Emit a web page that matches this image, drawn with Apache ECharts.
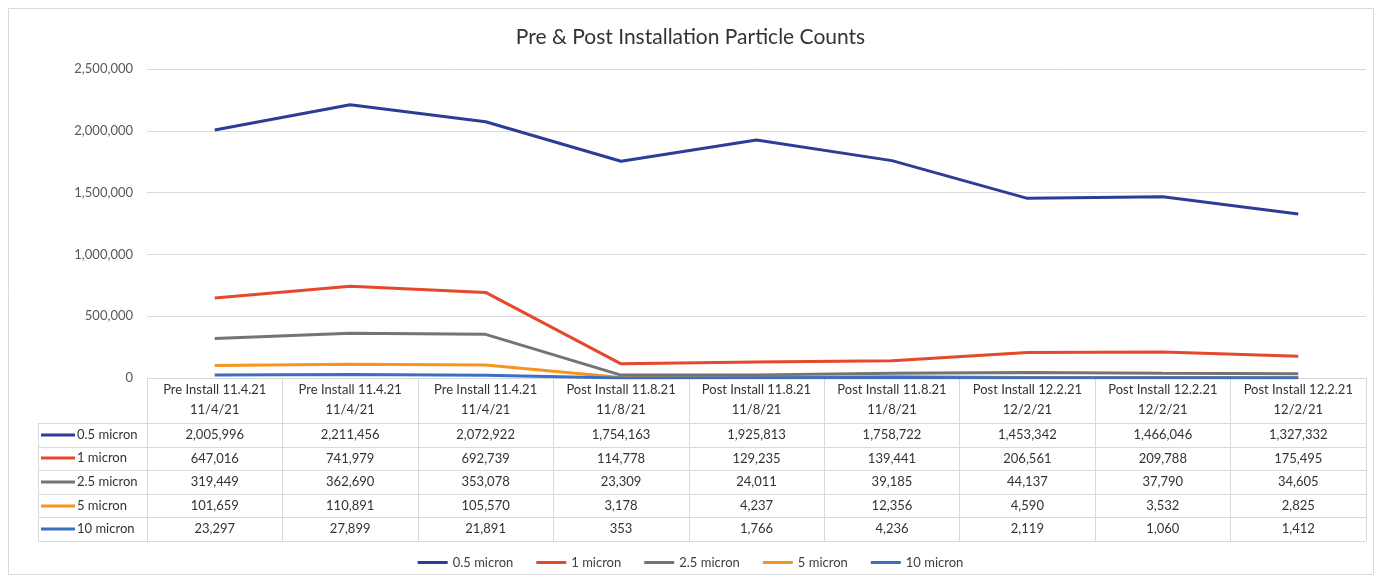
<!DOCTYPE html>
<html>
<head>
<meta charset="utf-8">
<title>Pre & Post Installation Particle Counts</title>
<script src="https://cdn.jsdelivr.net/npm/echarts@6/dist/echarts.min.js"></script>
<style>
  html, body { margin: 0; padding: 0; background: #fff; }
  #main { width: 1381px; height: 582px; }
</style>
</head>
<body>
<div id="main"></div>
<script>
// data
var stages = ['Pre Install 11.4.21', 'Pre Install 11.4.21', 'Pre Install 11.4.21',
  'Post Install 11.8.21', 'Post Install 11.8.21', 'Post Install 11.8.21',
  'Post Install 12.2.21', 'Post Install 12.2.21', 'Post Install 12.2.21'];
var dates = ['11/4/21', '11/4/21', '11/4/21', '11/8/21', '11/8/21', '11/8/21', '12/2/21', '12/2/21', '12/2/21'];

var micron05 = [2005996, 2211456, 2072922, 1754163, 1925813, 1758722, 1453342, 1466046, 1327332];
var micron1 = [647016, 741979, 692739, 114778, 129235, 139441, 206561, 209788, 175495];
var micron25 = [319449, 362690, 353078, 23309, 24011, 39185, 44137, 37790, 34605];
var micron5 = [101659, 110891, 105570, 3178, 4237, 12356, 4590, 3532, 2825];
var micron10 = [23297, 27899, 21891, 353, 1766, 4236, 2119, 1060, 1412];

var seriesNames = ['0.5 micron', '1 micron', '2.5 micron', '5 micron', '10 micron'];
var seriesData = [micron05, micron1, micron25, micron5, micron10];
var colors = ['#2b3d97', '#e5482a', '#747474', '#f7941d', '#3b6fc3'];

var FONT = 'Lato';
var gridLeft = 147, gridRight = 15, gridTop = 69, gridBottom = 204;
var axisY = 582 - gridBottom;          // 378
var headerH = 45, rowH = 23.6;
var tableLeft = 38;

var fmt = function (v) { return v.toLocaleString('en-US'); };

var headers = stages.map(function (s, i) { return s + '\n' + dates[i]; });

var xAxes = [{
  type: 'category',
  data: headers,
  boundaryGap: true,
  gridIndex: 0,
  axisLine: { lineStyle: { color: '#d9d9d9', width: 1 } },
  axisTick: { show: true, interval: 0, length: headerH + rowH * 5, lineStyle: { color: '#d9d9d9' } },
  axisLabel: {
    interval: 0, margin: 2, color: '#333', fontFamily: FONT, fontSize: 13, lineHeight: 20
  }
}];
seriesData.forEach(function (arr, k) {
  xAxes.push({
    type: 'category',
    data: arr.map(fmt),
    gridIndex: 0,
    position: 'bottom',
    offset: headerH + rowH * k + rowH / 2,
    axisLine: { show: false },
    axisTick: { show: false },
    axisLabel: {
      interval: 0, margin: 0, verticalAlign: 'middle',
      color: '#333', fontFamily: FONT, fontSize: 13
    }
  });
});

// table frame (decoration only)
var graphics = [{
  type: 'rect', shape: { x: 8.5, y: 8.5, width: 1365, height: 566 },
  style: { fill: 'none', stroke: '#d9d9d9', lineWidth: 1 }, silent: true
}];
var tableRight = 1381 - gridRight;
for (var r = 0; r <= 5; r++) {
  var y = Math.round(axisY + headerH + rowH * r) + 0.5;
  graphics.push({
    type: 'line', shape: { x1: tableLeft, y1: y, x2: tableRight, y2: y },
    style: { stroke: '#d9d9d9', lineWidth: 1 }, silent: true
  });
}
graphics.push({
  type: 'line',
  shape: { x1: tableLeft + 0.5, y1: axisY + headerH, x2: tableLeft + 0.5, y2: Math.round(axisY + headerH + rowH * 5) + 0.5 },
  style: { stroke: '#d9d9d9', lineWidth: 1 }, silent: true
});
seriesNames.forEach(function (name, k) {
  var cy = Math.round(axisY + headerH + rowH * k + rowH / 2);
  graphics.push({
    type: 'line', shape: { x1: 41, y1: cy, x2: 75, y2: cy },
    style: { stroke: colors[k], lineWidth: 3 }, silent: true
  });
  graphics.push({
    type: 'text', x: 77, y: cy,
    style: { text: name, fill: '#333', font: '13px ' + FONT, textVerticalAlign: 'middle' }, silent: true
  });
});

var chart = echarts.init(document.getElementById('main'));
chart.setOption({
  animation: false,
  color: colors,
  title: {
    text: 'Pre & Post Installation Particle Counts',
    left: 'center', top: 22,
    textStyle: { fontFamily: FONT, fontSize: 21, fontWeight: 'normal', color: '#333' }
  },
  legend: {
    data: seriesNames,
    top: 551, left: 'center',
    icon: 'rect', itemWidth: 30, itemHeight: 3, itemGap: 23,
    textStyle: { fontFamily: FONT, fontSize: 13, color: '#404040' }
  },
  grid: { left: gridLeft, right: gridRight, top: gridTop, bottom: gridBottom, containLabel: false },
  xAxis: xAxes,
  yAxis: {
    type: 'value', min: 0, max: 2500000, interval: 500000,
    axisLine: { show: false }, axisTick: { show: false },
    splitLine: { lineStyle: { color: '#d9d9d9' } },
    axisLabel: { margin: 14, color: '#595959', fontFamily: FONT, fontSize: 13, formatter: fmt }
  },
  graphic: graphics,
  series: seriesNames.map(function (name, k) {
    return {
      name: name, type: 'line', xAxisIndex: 0, data: seriesData[k],
      showSymbol: false, symbol: 'none',
      lineStyle: { width: 3, color: colors[k] },
      itemStyle: { color: colors[k] }
    };
  })
});
</script>
</body>
</html>
